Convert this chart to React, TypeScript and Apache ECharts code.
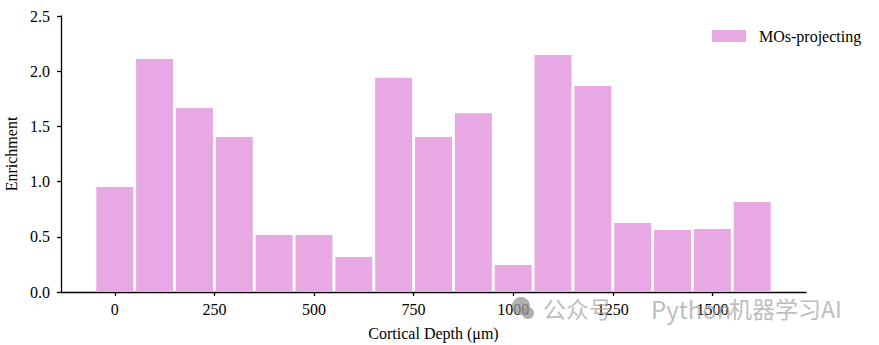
import React, { useEffect, useRef } from "react";
import * as echarts from "echarts";

const depths = [0, 100, 200, 300, 400, 500, 600, 700, 800, 900, 1000, 1100, 1200, 1300, 1400, 1500, 1600];
const enrichment = [0.95, 2.11, 1.667, 1.404, 0.516, 0.516, 0.317, 1.94, 1.404, 1.62, 0.245, 2.147, 1.866, 0.625, 0.562, 0.571, 0.815];
const xTicks = [0, 250, 500, 750, 1000, 1250, 1500];
const seriesName = "MOs-projecting";

const FONT = "Liberation Serif";
const WM_FONT = "Noto Sans CJK SC";
const WM_COLOR = "rgba(160,160,160,0.7)";

export default function App() {
  const ref = useRef<HTMLDivElement>(null);
  useEffect(() => {
    if (!ref.current) return;
    const chart = echarts.init(ref.current, null, { renderer: "svg" });
    chart.setOption({
      animation: false,
      backgroundColor: "#ffffff",
      textStyle: { fontFamily: FONT },
      grid: { left: 61, right: 73, top: 16, bottom: 53, containLabel: false, outerBoundsMode: "none" },
      legend: {
        left: 707,
        top: 23,
        itemWidth: 34,
        itemHeight: 12,
        icon: "rect",
        textStyle: { fontFamily: FONT, fontSize: 16, color: "#000", padding: [0, 0, 0, 8] },
        data: [seriesName],
      },
      xAxis: {
        type: "value",
        min: -135,
        max: 1735,
        name: "Cortical Depth (μm)",
        nameLocation: "middle",
        nameGap: 33,
        nameTextStyle: { fontFamily: FONT, fontSize: 16, color: "#000" },
        axisLine: { show: true, onZero: false, lineStyle: { color: "#000", width: 1.3 } },
        axisTick: { show: true, customValues: xTicks, length: 4, lineStyle: { color: "#000", width: 1.3 } },
        axisLabel: {
          customValues: xTicks,
          fontFamily: FONT,
          fontSize: 16,
          color: "#000",
          margin: 9,
          formatter: (v: number) => String(v),
        },
        splitLine: { show: false },
      },
      yAxis: {
        type: "value",
        min: 0,
        max: 2.5,
        interval: 0.5,
        name: "Enrichment",
        nameLocation: "middle",
        nameGap: 38,
        nameTextStyle: { fontFamily: FONT, fontSize: 16, color: "#000" },
        axisLine: { show: true, onZero: false, lineStyle: { color: "#000", width: 1.3 } },
        axisTick: { show: true, length: 4, lineStyle: { color: "#000", width: 1.3 } },
        axisLabel: {
          fontFamily: FONT,
          fontSize: 16,
          color: "#000",
          margin: 11,
          formatter: (v: number) => v.toFixed(1),
        },
        splitLine: { show: false },
      },
      series: [
        {
          name: seriesName,
          type: "bar",
          data: depths.map((d, i) => [d, enrichment[i]]),
          barWidth: 37,
          itemStyle: { color: "#E8A8E3" },
        },
      ],
      graphic: [
        {
          type: "circle",
          shape: { cx: 521, cy: 306, r: 9 },
          style: { fill: "rgba(150,150,150,0.75)" },
          z: 100,
        },
        {
          type: "circle",
          shape: { cx: 528, cy: 313, r: 6 },
          style: { fill: "rgba(150,150,150,0.75)" },
          z: 100,
        },
        {
          type: "text",
          x: 543,
          y: 296,
          style: { text: "公众号", fontFamily: WM_FONT, fontSize: 23, fill: WM_COLOR },
          z: 100,
        },
        {
          type: "text",
          x: 651,
          y: 296,
          style: { text: "Python", fontFamily: WM_FONT, fontSize: 24, fill: WM_COLOR },
          z: 100,
        },
        {
          type: "text",
          x: 729,
          y: 296,
          style: { text: "机器学习AI", fontFamily: WM_FONT, fontSize: 23, fill: WM_COLOR },
          z: 100,
        },
      ],
    });
    return () => chart.dispose();
  }, []);
  return <div ref={ref} style={{ width: 879, height: 345, position: "absolute", left: 0, top: 0 }} />;
}
